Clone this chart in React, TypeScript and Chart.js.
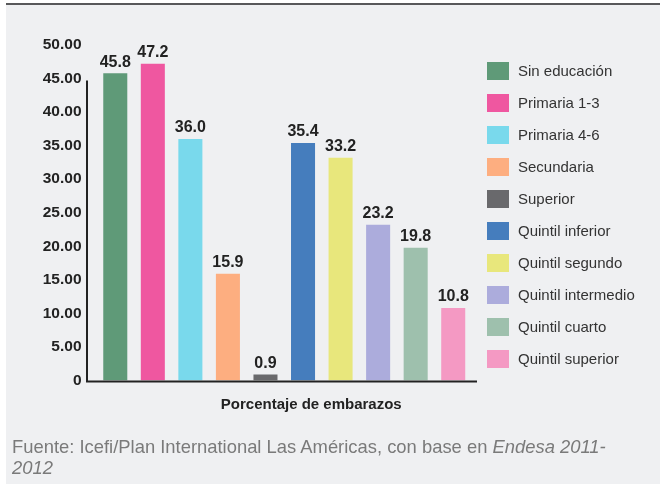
import React, { useEffect, useRef } from "react";
import { Chart, registerables } from "chart.js";

Chart.register(...registerables);

const categories = [
  "Sin educación",
  "Primaria 1-3",
  "Primaria 4-6",
  "Secundaria",
  "Superior",
  "Quintil inferior",
  "Quintil segundo",
  "Quintil intermedio",
  "Quintil cuarto",
  "Quintil superior",
];
const values = [45.8, 47.2, 36.0, 15.9, 0.9, 35.4, 33.2, 23.2, 19.8, 10.8];
const colors = [
  "#5f9a78",
  "#ef57a0",
  "#79d9ec",
  "#fdae80",
  "#69696c",
  "#457dbd",
  "#e8e77c",
  "#acacdc",
  "#9ec0ad",
  "#f499c3",
];
const yTicks = [0, 5, 10, 15, 20, 25, 30, 35, 40, 45, 50];
const xTitle = "Porcentaje de embarazos";

const FONT = "'Liberation Sans', Arial, Helvetica, sans-serif";

const decorPlugin = {
  id: "decor",
  afterDatasetsDraw(chart: any) {
    const { ctx, chartArea, scales } = chart;
    const y = scales.y;
    ctx.save();
    // axis lines
    ctx.strokeStyle = "#222";
    ctx.lineWidth = 2;
    ctx.beginPath();
    const axisX = chartArea.left - 9.5;
    ctx.moveTo(axisX, y.getPixelForValue(44.7));
    ctx.lineTo(axisX, y.getPixelForValue(0) + 1);
    ctx.lineTo(chartArea.right + 5, y.getPixelForValue(0) + 1);
    ctx.stroke();
    // data labels
    const meta = chart.getDatasetMeta(0);
    ctx.fillStyle = "#222";
    ctx.font = `bold 16px ${FONT}`;
    ctx.textAlign = "center";
    ctx.textBaseline = "bottom";
    meta.data.forEach((bar: any, i: number) => {
      ctx.fillText(values[i].toFixed(1), bar.x, bar.y - 3);
    });
    // x axis title
    ctx.font = `bold 15px ${FONT}`;
    ctx.textBaseline = "middle";
    ctx.fillText(xTitle, (chartArea.left + chartArea.right) / 2 + 27, y.getPixelForValue(0) + 24);
    ctx.restore();
  },
};

export default function App() {
  const ref = useRef<HTMLCanvasElement>(null);
  useEffect(() => {
    if (!ref.current) return;
    const chart = new Chart(ref.current, {
      type: "bar",
      data: {
        labels: categories,
        datasets: [
          {
            data: values,
            backgroundColor: colors,
            borderWidth: 0,
            barPercentage: 0.64,
            categoryPercentage: 1,
          },
        ],
      },
      options: {
        responsive: false,
        animation: false,
        layout: { padding: { top: 45, right: 188, left: 0, bottom: 0 } },
        plugins: { legend: { display: false }, tooltip: { enabled: false } },
        scales: {
          x: {
            grid: { display: false, drawTicks: false },
            border: { display: false },
            ticks: { display: false },
            afterFit: (s: any) => {
              s.height = 106.5;
            },
          },
          y: {
            min: 0,
            max: 50,
            grid: { display: false, drawTicks: false },
            border: { display: false },
            afterBuildTicks: (s: any) => {
              s.ticks = yTicks.map((v) => ({ value: v }));
            },
            ticks: {
              padding: 15,
              color: "#222",
              font: { family: FONT, size: 15.5, weight: "bold" },
              callback: (v: any) => (Number(v) === 0 ? "0" : Number(v).toFixed(2)),
            },
            afterFit: (s: any) => {
              s.width = 96.5;
            },
          },
        },
      },
      plugins: [decorPlugin],
    });
    return () => chart.destroy();
  }, []);

  return (
    <div style={{ position: "absolute", left: 0, top: 0, width: 660, height: 487, background: "#fff", overflow: "hidden" }}>
      <div
        style={{
          position: "absolute",
          left: 6,
          top: 3,
          width: 654,
          height: 479,
          background: "#eff0f2",
          borderTop: "2px solid #58585a",
        }}
      />
      <canvas ref={ref} width={660} height={487} style={{ position: "absolute", left: 0, top: 0 }} />
      <div style={{ position: "absolute", left: 487, top: 62 }}>
        {categories.map((c, i) => (
          <div key={c} style={{ position: "absolute", left: 0, top: i * 32, height: 18, width: 170, whiteSpace: "nowrap" }}>
            <div style={{ position: "absolute", left: 0, top: 0, width: 22, height: 18, background: colors[i] }} />
            <div
              style={{
                position: "absolute",
                left: 31,
                top: 0,
                lineHeight: "18px",
                fontFamily: FONT,
                fontSize: 15,
                color: "#333",
              }}
            >
              {c}
            </div>
          </div>
        ))}
      </div>
      <div
        style={{
          position: "absolute",
          left: 12,
          top: 436,
          fontFamily: FONT,
          fontSize: 18.4,
          lineHeight: "21px",
          color: "#7a7a7a",
          whiteSpace: "nowrap",
        }}
      >
        Fuente: Icefi/Plan International Las Américas, con base en <i>Endesa 2011-</i>
        <br />
        <i>2012</i>
      </div>
    </div>
  );
}
